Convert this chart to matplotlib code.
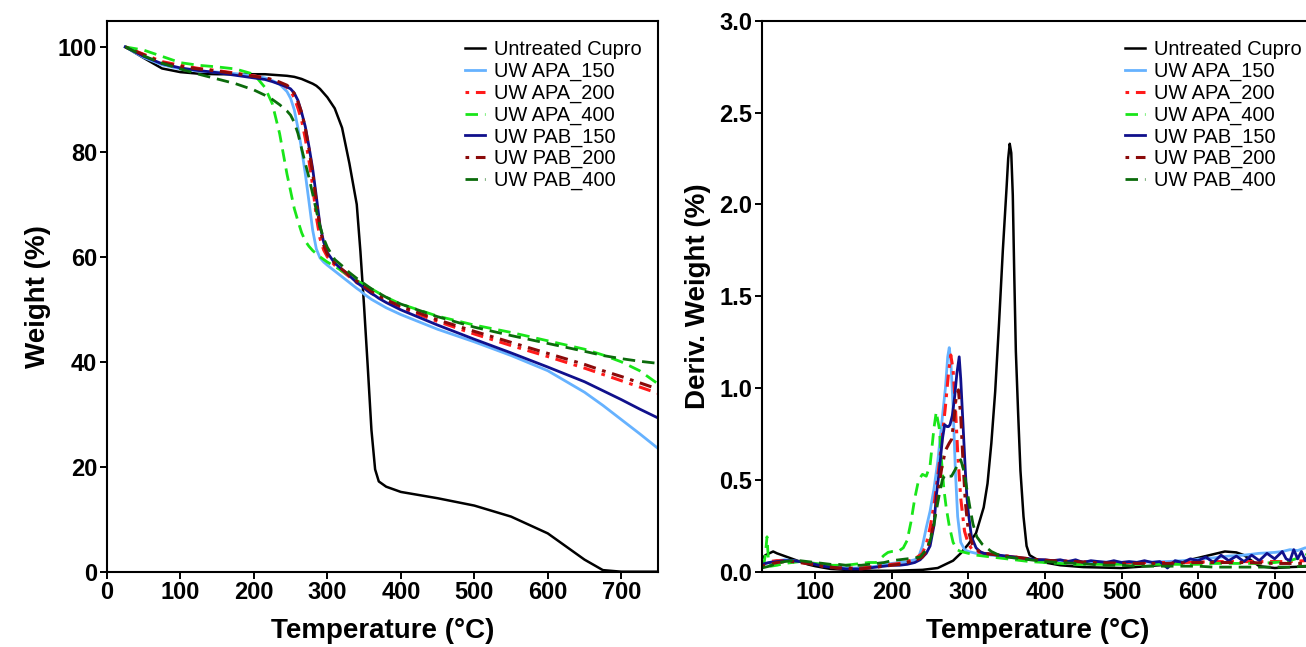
import matplotlib
matplotlib.use("Agg")
import matplotlib.pyplot as plt

plt.rcParams['font.family'] = ['Liberation Sans', 'DejaVu Sans']

# 样品名称
labels = ["Untreated Cupro", "UW APA_150", "UW APA_200", "UW APA_400",
          "UW PAB_150", "UW PAB_200", "UW PAB_400"]

# ---------------- TGA 数据 (温度, 失重%) ----------------
t_tga = [25, 50, 75, 100, 125, 150, 175, 200, 215, 225, 235, 245, 250, 255, 260, 265,
         270, 275, 280, 285, 290, 295, 300, 310, 320, 330, 340, 345, 350, 355, 360, 365,
         370, 380, 400, 450, 500, 550, 600, 650, 675, 700, 725, 750]
w_cupro = [100, 97.9, 95.9, 95.2, 94.9, 94.8, 94.8, 94.8, 94.8, 94.7, 94.6, 94.5, 94.4, 94.3, 94.1, 93.9,
           93.6, 93.3, 93.0, 92.6, 92.0, 91.2, 90.4, 88.3, 84.6, 77.8, 70.0, 61.0, 50.5, 39.0, 27.0, 19.5,
           17.2, 16.2, 15.2, 14.0, 12.6, 10.5, 7.3, 2.3, 0.3, 0.0, 0.0, 0.0]
w_apa150 = [100, 98.0, 96.6, 95.8, 95.4, 95.2, 94.9, 94.5, 94.1, 93.6, 92.9, 91.5, 90.2, 88.0, 84.5, 80.5,
            75.8, 70.5, 65.1, 61.5, 59.8, 59.0, 58.4, 57.3, 56.2, 55.1, 54.0, 53.5, 52.9, 52.4, 51.9, 51.5,
            51.1, 50.3, 49.0, 46.2, 43.8, 41.2, 38.3, 34.2, 31.7, 29.0, 26.3, 23.5]
w_apa200 = [100, 98.6, 97.2, 96.5, 95.9, 95.5, 95.0, 94.5, 94.1, 93.7, 93.1, 92.3, 91.6, 90.3, 88.3, 86.0,
            82.5, 78.3, 73.5, 67.6, 63.5, 61.3, 60.0, 58.4, 57.3, 56.2, 55.1, 54.6, 54.1, 53.6, 53.1, 52.7,
            52.3, 51.5, 50.3, 47.7, 45.3, 43.1, 41.0, 38.8, 37.6, 36.4, 35.2, 34.0]
w_apa400 = [100, 99.4, 98.2, 97.0, 96.5, 96.2, 95.8, 94.8, 92.3, 89.2, 83.5, 75.8, 72.5, 69.2, 66.8, 64.6,
            63.0, 62.0, 61.2, 60.6, 60.0, 59.5, 59.0, 58.2, 57.3, 56.4, 55.5, 55.1, 54.7, 54.3, 53.9, 53.5,
            53.1, 52.3, 51.0, 48.7, 47.0, 45.6, 44.0, 42.4, 41.3, 40.0, 38.3, 35.8]
w_pab150 = [100, 98.2, 96.8, 96.0, 95.5, 95.1, 94.6, 94.1, 93.8, 93.4, 92.9, 92.4, 92.0, 91.2, 89.8, 87.5,
            84.8, 81.0, 76.8, 71.5, 66.0, 62.8, 60.8, 58.8, 57.6, 56.4, 55.1, 54.6, 54.1, 53.5, 53.0, 52.6,
            52.1, 51.3, 49.9, 47.0, 44.3, 41.7, 39.0, 36.2, 34.5, 32.8, 31.0, 29.3]
w_pab200 = [100, 98.5, 97.0, 96.3, 95.8, 95.4, 94.9, 94.4, 94.1, 93.8, 93.3, 92.7, 92.1, 91.1, 89.5, 87.5,
            84.5, 80.5, 76.0, 70.5, 65.5, 62.2, 60.5, 58.8, 57.6, 56.5, 55.4, 54.9, 54.4, 53.9, 53.4, 53.0,
            52.6, 51.8, 50.6, 48.0, 45.8, 43.7, 41.6, 39.5, 38.3, 37.2, 36.0, 34.8]
w_pab400 = [100, 98.3, 96.9, 95.8, 94.8, 93.9, 93.0, 91.8, 90.8, 90.0, 89.0, 87.8, 87.0, 85.6, 83.5, 80.6,
            77.8, 75.1, 72.0, 68.8, 65.8, 63.5, 61.8, 59.5, 58.3, 57.0, 55.9, 55.4, 54.9, 54.4, 53.9, 53.5,
            53.1, 52.3, 51.0, 48.6, 46.6, 45.0, 43.5, 42.0, 41.2, 40.6, 40.1, 39.7]

# ---------------- DTG 数据 (温度, 失重速率) ----------------
t_d_cupro = [30, 35, 40, 45, 50, 60, 70, 80, 90, 100, 120, 140, 160, 200, 240, 260, 280, 290, 300, 310,
             320, 325, 330, 335, 340, 345, 350, 352, 354, 356, 358, 360, 362, 365, 368, 372, 376, 380,
             390, 400, 420, 450, 500, 550, 580, 600, 620, 635, 650, 660, 670, 680, 700, 720, 750]
d_cupro = [0.07, 0.09, 0.10, 0.11, 0.10, 0.085, 0.07, 0.055, 0.04, 0.03, 0.015, 0.01, 0.005, 0.005, 0.01,
           0.02, 0.06, 0.10, 0.15, 0.21, 0.35, 0.48, 0.70, 0.98, 1.35, 1.75, 2.10, 2.25, 2.33, 2.28, 2.05,
           1.60, 1.20, 0.86, 0.55, 0.30, 0.14, 0.09, 0.065, 0.05, 0.035, 0.025, 0.02, 0.035, 0.055, 0.075,
           0.095, 0.11, 0.105, 0.09, 0.06, 0.03, 0.02, 0.025, 0.03]

t_d_apa150 = [30, 40, 50, 60, 70, 80, 90, 100, 110, 120, 130, 140, 150, 160, 170, 180, 190, 200, 210,
              220, 230, 235, 240, 245, 250, 255, 260, 265, 270, 273, 275, 277, 280, 283, 286, 290, 295,
              300, 310, 320, 330, 340, 350, 360, 370, 380, 400, 420, 440, 460, 480, 500, 520, 540, 560,
              580, 600, 620, 640, 660, 680, 700, 710, 720, 730, 740, 750]
d_apa150 = [0.04, 0.05, 0.06, 0.065, 0.06, 0.055, 0.05, 0.045, 0.035, 0.03, 0.025, 0.02, 0.02, 0.02,
            0.025, 0.03, 0.04, 0.045, 0.05, 0.055, 0.065, 0.08, 0.14, 0.24, 0.33, 0.45, 0.60, 0.80, 1.00,
            1.17, 1.22, 1.15, 0.90, 0.55, 0.30, 0.16, 0.12, 0.11, 0.10, 0.095, 0.09, 0.085, 0.08, 0.075,
            0.07, 0.068, 0.062, 0.058, 0.055, 0.055, 0.053, 0.052, 0.052, 0.053, 0.055, 0.06, 0.068,
            0.075, 0.085, 0.09, 0.10, 0.105, 0.11, 0.12, 0.115, 0.13, 0.125]

t_d_apa200 = [30, 40, 50, 60, 70, 80, 90, 100, 110, 120, 130, 140, 150, 160, 170, 180, 190, 200, 210,
              220, 230, 240, 245, 250, 255, 260, 265, 270, 274, 277, 280, 283, 286, 290, 295, 300, 305,
              310, 320, 330, 340, 350, 360, 370, 380, 400, 420, 440, 460, 480, 500, 520, 540, 560, 580,
              600, 620, 640, 660, 680, 700, 720, 740, 750]
d_apa200 = [0.05, 0.055, 0.06, 0.06, 0.055, 0.05, 0.045, 0.04, 0.03, 0.025, 0.02, 0.02, 0.02, 0.02,
            0.025, 0.03, 0.035, 0.04, 0.045, 0.055, 0.07, 0.10, 0.15, 0.24, 0.36, 0.52, 0.70, 0.90, 1.08,
            1.18, 1.10, 0.90, 0.65, 0.40, 0.22, 0.15, 0.12, 0.11, 0.10, 0.095, 0.09, 0.085, 0.08, 0.075,
            0.07, 0.062, 0.058, 0.055, 0.052, 0.05, 0.05, 0.05, 0.05, 0.05, 0.05, 0.052, 0.055, 0.055,
            0.055, 0.055, 0.055, 0.055, 0.06, 0.06]

t_d_apa400 = [30, 33, 35, 37, 39, 42, 50, 60, 70, 80, 90, 100, 110, 120, 130, 140, 150, 160, 170, 180,
              190, 195, 200, 210, 215, 220, 225, 230, 235, 240, 245, 250, 255, 258, 262, 265, 268, 271,
              275, 280, 285, 290, 300, 310, 320, 330, 340, 350, 360, 370, 380, 400, 420, 440, 460, 480,
              500, 520, 540, 560, 580, 600, 620, 640, 660, 680, 700, 720, 735, 745, 750]
d_apa400 = [0.03, 0.04, 0.10, 0.19, 0.05, 0.03, 0.035, 0.045, 0.05, 0.055, 0.05, 0.045, 0.04, 0.035,
            0.035, 0.035, 0.04, 0.045, 0.05, 0.05, 0.09, 0.105, 0.11, 0.115, 0.13, 0.17, 0.27, 0.40, 0.50,
            0.53, 0.52, 0.58, 0.78, 0.87, 0.78, 0.60, 0.45, 0.35, 0.25, 0.16, 0.12, 0.11, 0.10, 0.09,
            0.085, 0.08, 0.075, 0.07, 0.065, 0.06, 0.055, 0.05, 0.045, 0.04, 0.04, 0.04, 0.04, 0.04, 0.04,
            0.04, 0.04, 0.04, 0.045, 0.045, 0.045, 0.045, 0.05, 0.06, 0.08, 0.10, 0.10]

t_d_pab150 = [30, 40, 50, 60, 70, 80, 90, 100, 110, 120, 130, 140, 150, 160, 170, 180, 190, 200, 210,
              220, 230, 237, 245, 250, 255, 258, 262, 266, 269, 272, 274, 276, 279, 282, 285, 288, 290,
              293, 296, 298, 300, 304, 310, 315, 320, 330, 340, 350, 360, 370, 380, 390, 400, 410, 420,
              430, 440, 450, 460, 470, 480, 490, 500, 510, 520, 530, 540, 550, 560, 570, 580, 590, 600,
              610, 620, 630, 640, 650, 660, 670, 680, 690, 700, 710, 715, 720, 725, 730, 735, 740, 745, 750]
d_pab150 = [0.04, 0.05, 0.055, 0.06, 0.06, 0.055, 0.05, 0.04, 0.03, 0.025, 0.02, 0.015, 0.015, 0.015,
            0.02, 0.025, 0.03, 0.035, 0.035, 0.04, 0.05, 0.065, 0.10, 0.14, 0.25, 0.41, 0.55, 0.72, 0.80,
            0.79, 0.79, 0.80, 0.85, 0.95, 1.08, 1.17, 1.05, 0.80, 0.55, 0.41, 0.32, 0.19, 0.13, 0.11,
            0.10, 0.095, 0.09, 0.085, 0.08, 0.075, 0.07, 0.065, 0.065, 0.06, 0.065, 0.055, 0.065, 0.05,
            0.06, 0.055, 0.05, 0.06, 0.05, 0.055, 0.05, 0.06, 0.05, 0.055, 0.02, 0.06, 0.05, 0.07, 0.06,
            0.08, 0.05, 0.09, 0.06, 0.085, 0.055, 0.09, 0.06, 0.10, 0.07, 0.11, 0.07, 0.06, 0.12, 0.07,
            0.11, 0.06, 0.10, 0.07]

t_d_pab200 = [30, 40, 50, 60, 70, 80, 90, 100, 110, 120, 130, 140, 150, 160, 170, 180, 190, 200, 210,
              220, 230, 240, 245, 250, 255, 260, 265, 270, 275, 278, 281, 284, 287, 290, 293, 296, 300,
              305, 310, 320, 330, 340, 350, 360, 370, 380, 400, 420, 440, 460, 480, 500, 520, 540, 560,
              580, 600, 620, 640, 660, 680, 700, 720, 740, 750]
d_pab200 = [0.03, 0.04, 0.05, 0.055, 0.055, 0.05, 0.045, 0.04, 0.03, 0.025, 0.02, 0.02, 0.015, 0.015,
            0.02, 0.025, 0.03, 0.035, 0.04, 0.05, 0.06, 0.08, 0.11, 0.17, 0.27, 0.42, 0.56, 0.66, 0.70,
            0.72, 0.82, 0.95, 0.99, 0.85, 0.60, 0.38, 0.22, 0.15, 0.12, 0.10, 0.095, 0.09, 0.085, 0.08,
            0.075, 0.07, 0.062, 0.058, 0.055, 0.05, 0.048, 0.046, 0.045, 0.045, 0.045, 0.048, 0.05, 0.05,
            0.05, 0.05, 0.048, 0.045, 0.045, 0.045, 0.045]

t_d_pab400 = [30, 40, 50, 60, 70, 80, 90, 100, 110, 120, 130, 140, 150, 160, 170, 180, 190, 200, 210,
              220, 230, 237, 245, 250, 254, 258, 262, 266, 270, 274, 278, 282, 286, 290, 294, 298, 302,
              306, 311, 318, 324, 330, 340, 350, 360, 370, 380, 400, 420, 440, 460, 480, 500, 520, 540,
              560, 580, 600, 620, 640, 660, 680, 700, 720, 740, 750]
d_pab400 = [0.02, 0.03, 0.045, 0.055, 0.06, 0.06, 0.055, 0.05, 0.045, 0.04, 0.04, 0.035, 0.035, 0.035,
            0.04, 0.045, 0.05, 0.06, 0.065, 0.07, 0.075, 0.08, 0.12, 0.17, 0.23, 0.33, 0.42, 0.50, 0.53,
            0.52, 0.52, 0.55, 0.58, 0.61, 0.55, 0.45, 0.35, 0.26, 0.19, 0.15, 0.13, 0.11, 0.09, 0.08,
            0.075, 0.07, 0.065, 0.055, 0.05, 0.045, 0.04, 0.035, 0.035, 0.03, 0.03, 0.03, 0.03, 0.03,
            0.025, 0.025, 0.025, 0.025, 0.025, 0.025, 0.03, 0.03]

# 颜色和线型
colors = ['black', '#66b2ff', '#ff1a1a', '#19e619', '#10108c', '#8b0a0a', '#0b6b0b']
styles = ['-', '-', (0, (1.2, 2.2, 4, 2.2)), (0, (4.5, 2.5)), '-', (0, (1.2, 2.2, 4, 2.2)), (0, (4.5, 2.5))]
widths = [1.8, 2.0, 2.2, 2.0, 2.0, 2.2, 2.0]

tga = [w_cupro, w_apa150, w_apa200, w_apa400, w_pab150, w_pab200, w_pab400]
dtg_t = [t_d_cupro, t_d_apa150, t_d_apa200, t_d_apa400, t_d_pab150, t_d_pab200, t_d_pab400]
dtg = [d_cupro, d_apa150, d_apa200, d_apa400, d_pab150, d_pab200, d_pab400]

fig = plt.figure(figsize=(13.06, 6.47), dpi=100)
ax1 = fig.add_axes([0.0819, 0.1164, 0.4219, 0.8516])
ax2 = fig.add_axes([0.5832, 0.1164, 0.4221, 0.8516])

# 左图: TGA
for i in range(7):
    ax1.plot(t_tga, tga[i], color=colors[i], linestyle=styles[i], linewidth=widths[i], label=labels[i])
ax1.set_xlim(0, 750)
ax1.set_ylim(0, 105)
ax1.set_xticks([0, 100, 200, 300, 400, 500, 600, 700])
ax1.set_yticks([0, 20, 40, 60, 80, 100])
ax1.set_xlabel("Temperature (°C)", fontsize=20, fontweight='bold', labelpad=10)
ax1.set_ylabel("Weight (%)", fontsize=20, fontweight='bold', labelpad=5)

# 右图: DTG
for i in range(7):
    ax2.plot(dtg_t[i], dtg[i], color=colors[i], linestyle=styles[i], linewidth=widths[i], label=labels[i])
ax2.set_xlim(30, 750)
ax2.set_ylim(0, 3.0)
ax2.set_xticks([100, 200, 300, 400, 500, 600, 700])
ax2.set_yticks([0.0, 0.5, 1.0, 1.5, 2.0, 2.5, 3.0])
ax2.set_yticklabels(["0.0", "0.5", "1.0", "1.5", "2.0", "2.5", "3.0"])
ax2.set_xlabel("Temperature (°C)", fontsize=20, fontweight='bold', labelpad=10)
ax2.set_ylabel("Deriv. Weight (%)", fontsize=20, fontweight='bold', labelpad=6)

for ax in [ax1, ax2]:
    for s in ax.spines.values():
        s.set_linewidth(1.5)
    ax.tick_params(direction='out', length=5, width=1.4, labelsize=17, pad=2)
    for lab in ax.get_xticklabels() + ax.get_yticklabels():
        lab.set_fontweight('bold')
    leg = ax.legend(loc='upper right', frameon=False, fontsize=14.4, labelspacing=0.13,
                    handlelength=1.0, handletextpad=0.45, borderaxespad=0.3,
                    bbox_to_anchor=(0.995, 0.99))

# 右图图例位置 (右侧被裁掉)
ax2.get_legend().set_bbox_to_anchor((1.004, 0.99))

fig.savefig("out.png", dpi=100)
